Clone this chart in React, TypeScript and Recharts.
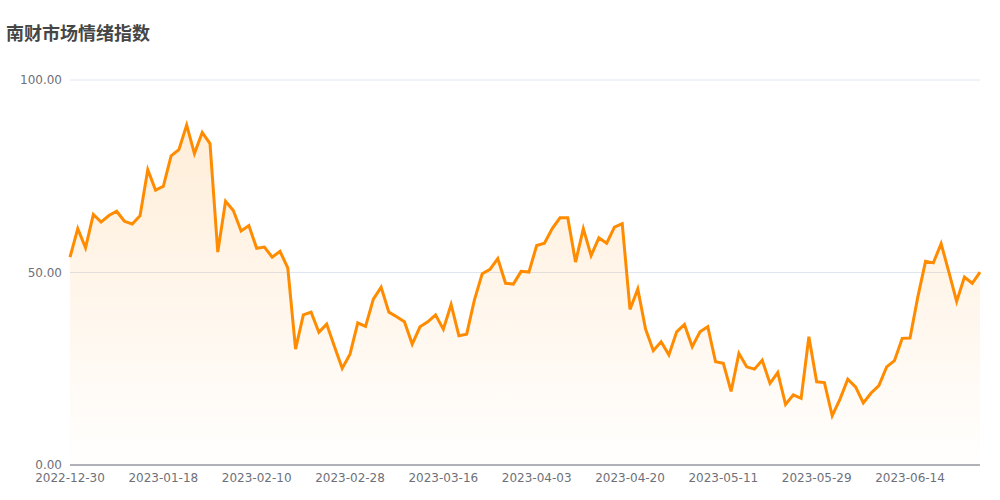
import { Area, AreaChart, CartesianGrid, XAxis, YAxis } from "recharts";

const dates: string[] = [
  "2022-12-30",
  "2023-01-03", "2023-01-04", "2023-01-05", "2023-01-06", "2023-01-09", "2023-01-10",
  "2023-01-11", "2023-01-12", "2023-01-13", "2023-01-16", "2023-01-17", "2023-01-18",
  "2023-01-19", "2023-01-20", "2023-01-30", "2023-01-31",
  "2023-02-01", "2023-02-02", "2023-02-03", "2023-02-06", "2023-02-07", "2023-02-08",
  "2023-02-09", "2023-02-10", "2023-02-13", "2023-02-14", "2023-02-15", "2023-02-16",
  "2023-02-17", "2023-02-20", "2023-02-21", "2023-02-22", "2023-02-23", "2023-02-24",
  "2023-02-27", "2023-02-28",
  "2023-03-01", "2023-03-02", "2023-03-03", "2023-03-06", "2023-03-07", "2023-03-08",
  "2023-03-09", "2023-03-10", "2023-03-13", "2023-03-14", "2023-03-15", "2023-03-16",
  "2023-03-17", "2023-03-20", "2023-03-21", "2023-03-22", "2023-03-23", "2023-03-24",
  "2023-03-27", "2023-03-28", "2023-03-29", "2023-03-30", "2023-03-31",
  "2023-04-03", "2023-04-04", "2023-04-06", "2023-04-07", "2023-04-10", "2023-04-11",
  "2023-04-12", "2023-04-13", "2023-04-14", "2023-04-17", "2023-04-18", "2023-04-19",
  "2023-04-20", "2023-04-21", "2023-04-24", "2023-04-25", "2023-04-26", "2023-04-27",
  "2023-04-28",
  "2023-05-04", "2023-05-05", "2023-05-08", "2023-05-09", "2023-05-10", "2023-05-11",
  "2023-05-12", "2023-05-15", "2023-05-16", "2023-05-17", "2023-05-18", "2023-05-19",
  "2023-05-22", "2023-05-23", "2023-05-24", "2023-05-25", "2023-05-26", "2023-05-29",
  "2023-05-30", "2023-05-31",
  "2023-06-01", "2023-06-02", "2023-06-05", "2023-06-06", "2023-06-07", "2023-06-08",
  "2023-06-09", "2023-06-12", "2023-06-13", "2023-06-14", "2023-06-15", "2023-06-16",
  "2023-06-19", "2023-06-20", "2023-06-21", "2023-06-26", "2023-06-27", "2023-06-28",
  "2023-06-29",
];

const sentiment: number[] = [
  54.0, 61.4, 56.4, 65.1, 63.1, 64.8, 65.9, 63.3, 62.6, 64.7,
  76.7, 71.4, 72.4, 80.3, 81.9, 88.3, 80.9, 86.4, 83.5, 55.3,
  68.5, 66.1, 60.8, 62.2, 56.3, 56.6, 54.0, 55.5, 51.2, 30.1,
  39.0, 39.7, 34.5, 36.6, 30.8, 25.1, 28.8, 36.9, 36.0, 43.1,
  46.2, 39.7, 38.5, 37.2, 31.4, 35.9, 37.2, 39.0, 35.3, 41.7,
  33.6, 34.0, 42.9, 49.7, 50.8, 53.6, 47.2, 47.0, 50.3, 50.1,
  57.0, 57.6, 61.4, 64.2, 64.2, 52.7, 61.4, 54.4, 59.0, 57.6,
  61.8, 62.7, 40.4, 45.7, 35.3, 29.7, 32.0, 28.6, 34.6, 36.5,
  30.7, 34.6, 35.9, 26.8, 26.4, 19.1, 29.0, 25.5, 24.9, 27.2,
  21.2, 24.0, 15.7, 18.2, 17.3, 33.3, 21.6, 21.4, 12.8, 17.1,
  22.3, 20.3, 16.1, 18.7, 20.6, 25.5, 27.1, 32.9, 33.0, 43.6,
  52.9, 52.5, 57.5, 50.1, 42.5, 48.8, 47.2, 50.1,
];

const yTicks = [0, 50, 100];

const data = dates.map((d, i) => ({ date: d, value: sentiment[i] }));

export default function App() {
  return (
    <div
      style={{
        position: "absolute",
        left: 0,
        top: 0,
        width: 1000,
        height: 500,
        background: "#fff",
        fontFamily: "'DejaVu Sans', sans-serif",
      }}
    >
      <div
        style={{
          position: "absolute",
          left: 6,
          top: 20,
          fontSize: 18,
          fontWeight: 700,
          lineHeight: "24px",
          color: "#464646",
          fontFamily: "'Noto Sans CJK SC', sans-serif",
        }}
      >
        南财市场情绪指数
      </div>
      <AreaChart
        width={1000}
        height={500}
        data={data}
        margin={{ top: 80, right: 20, bottom: 5, left: 10 }}
      >
        <defs>
          <linearGradient id="sentGrad" x1="0" y1="0" x2="0" y2="1">
            <stop offset="0%" stopColor="#ff8c00" stopOpacity={0.25} />
            <stop offset="100%" stopColor="#ff8c00" stopOpacity={0.01} />
          </linearGradient>
        </defs>
        <CartesianGrid stroke="#e0e6f1" vertical={false} />
        <XAxis
          dataKey="date"
          interval={11}
          height={30}
          tickLine={false}
          axisLine={{ stroke: "#6e7079" }}
          tick={{ fill: "#6e7079", fontSize: 12 }}
        />
        <YAxis
          domain={[0, 100]}
          ticks={yTicks}
          width={60}
          axisLine={false}
          tickLine={false}
          tickFormatter={(v: number) => v.toFixed(2)}
          tick={{ fill: "#6e7079", fontSize: 12 }}
        />
        <Area
          type="linear"
          dataKey="value"
          stroke="#ff8c00"
          strokeWidth={3}
          fill="url(#sentGrad)"
          dot={false}
          activeDot={false}
          isAnimationActive={false}
        />
      </AreaChart>
    </div>
  );
}
